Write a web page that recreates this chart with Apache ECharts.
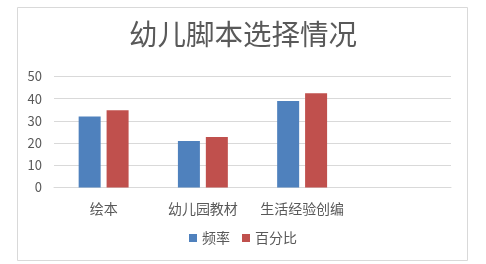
<!DOCTYPE html>
<html><head><meta charset="utf-8">
<script src="https://cdn.jsdelivr.net/npm/echarts@6/dist/echarts.min.js"></script>
<style>html,body{margin:0;padding:0;background:#fff}#c{width:486px;height:264px}</style>
</head><body><div id="c"></div>
<script>
var categories = ['绘本', '幼儿园教材', '生活经验创编', ''];
var seriesNames = ['频率', '百分比'];
var freq = [32, 21, 39, null];
var pct = [34.8, 22.8, 42.4, null];
var yTicks = { min: 0, max: 50, interval: 10 };

var font = '"Noto Sans CJK SC", "Noto Sans", sans-serif';
var chart = echarts.init(document.getElementById('c'));
chart.setOption({
  animation: false,
  backgroundColor: '#fff',
  title: {
    text: '幼儿脚本选择情况', left: 'center', top: 15,
    textStyle: { fontFamily: font, fontSize: 28.5, fontWeight: 'normal', color: '#595959' }
  },
  graphic: [{
    type: 'rect', shape: { x: 17.5, y: 7.5, width: 450, height: 253 },
    style: { fill: 'none', stroke: '#d9d9d9', lineWidth: 1 }, silent: true, z: -1
  }],
  legend: {
    data: seriesNames, bottom: 14, left: 'center', itemWidth: 8, itemHeight: 8, itemGap: 12,
    icon: 'rect',
    textStyle: { fontFamily: font, fontSize: 14, color: '#595959' }
  },
  grid: { left: 54, right: 35, top: 76.5, bottom: 76.5, containLabel: false },
  xAxis: {
    type: 'category', data: categories,
    axisLine: { lineStyle: { color: '#d9d9d9' } },
    axisTick: { show: false },
    axisLabel: { fontFamily: font, fontSize: 14, color: '#595959', margin: 14, interval: 0 }
  },
  yAxis: {
    type: 'value', min: yTicks.min, max: yTicks.max, interval: yTicks.interval,
    axisLine: { show: false }, axisTick: { show: false },
    axisLabel: { fontFamily: font, fontSize: 13, color: '#595959', margin: 12 },
    splitLine: { lineStyle: { color: '#d9d9d9' } }
  },
  series: [
    { name: seriesNames[0], type: 'bar', data: freq, barWidth: 22, barGap: '27%',
      itemStyle: { color: '#4f81bd' } },
    { name: seriesNames[1], type: 'bar', data: pct, barWidth: 22,
      itemStyle: { color: '#c0504d' } }
  ]
});
</script></body></html>
